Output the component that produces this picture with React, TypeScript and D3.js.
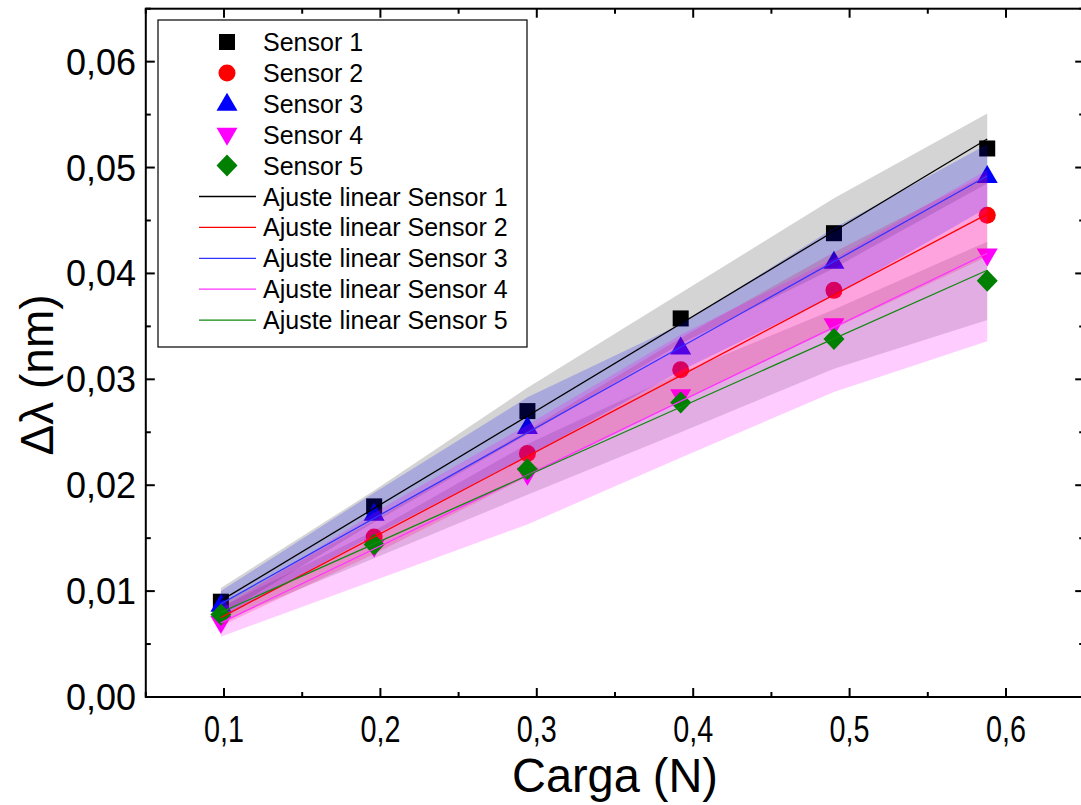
import React from "react";
import * as d3 from "d3";

const cargas = [0.098, 0.196, 0.294, 0.392, 0.49, 0.588];
const sensorNames = ["Sensor 1", "Sensor 2", "Sensor 3", "Sensor 4", "Sensor 5"];
const sensor1 = [0.009, 0.018, 0.027, 0.03575, 0.0438, 0.0518];
const sensor2 = [0.0077, 0.0151, 0.023, 0.0309, 0.0384, 0.0455];
const sensor3 = [0.0087, 0.0173, 0.0255, 0.033, 0.0411, 0.0492];
const sensor4 = [0.007, 0.0142, 0.021, 0.0284, 0.0351, 0.0417];
const sensor5 = [0.0078, 0.0144, 0.0215, 0.0278, 0.0338, 0.0393];
// half-widths of the shaded bands
const band1 = [0.0013, 0.0015, 0.0022, 0.0024, 0.0033, 0.0033];
const band2 = [0.001, 0.0016, 0.0022, 0.003, 0.0036, 0.0039];
const band3 = [0.0013, 0.002, 0.0028, 0.0022, 0.0032, 0.003];
const band4 = [0.0013, 0.0032, 0.0047, 0.0058, 0.0063, 0.0081];
const band5 = [0.0007, 0.0013, 0.0024, 0.0028, 0.0028, 0.0037];
// linear fit values at first and last carga
const fitStart = [0.0091, 0.0075, 0.0088, 0.007, 0.008];
const fitEnd = [0.0527, 0.0456, 0.0492, 0.0419, 0.0403];
const xTicks = [0.1, 0.2, 0.3, 0.4, 0.5, 0.6];
const yTicks = [0, 0.01, 0.02, 0.03, 0.04, 0.05, 0.06];

const colors = ["#000000", "#ff0000", "#0000ff", "#ff00ff", "#008000"];
const bandFills = [
  "rgba(0,0,0,0.17)",
  "rgba(255,0,60,0.2)",
  "rgba(0,0,255,0.2)",
  "rgba(255,0,255,0.2)",
  "rgba(40,30,40,0.17)",
];
const lineColors = ["#000000", "#ff0000", "#3333ff", "#ff33ff", "#118811"];

const FONT = "'Liberation Sans', Arial, sans-serif";

function Marker({ kind, x, y, color }: { kind: number; x: number; y: number; color: string }) {
  if (kind === 0) return <rect x={x - 8} y={y - 8} width={16} height={16} fill={color} />;
  if (kind === 1) return <circle cx={x} cy={y} r={8.5} fill={color} />;
  if (kind === 2)
    return <path d={`M${x},${y - 11} L${x + 10.5},${y + 7} L${x - 10.5},${y + 7} Z`} fill={color} />;
  if (kind === 3)
    return <path d={`M${x},${y + 11} L${x + 10.5},${y - 7} L${x - 10.5},${y - 7} Z`} fill={color} />;
  return <path d={`M${x},${y - 11} L${x + 10.5},${y} L${x},${y + 11} L${x - 10.5},${y} Z`} fill={color} />;
}

export default function App() {
  const W = 1081;
  const H = 805;
  const x = d3.scaleLinear().domain([0.05, 0.65]).range([145.8, 1084.2]);
  const y = d3.scaleLinear().domain([0, 0.065]).range([697, 8.7]);
  const series = [sensor1, sensor2, sensor3, sensor4, sensor5];
  const bands = [band1, band2, band3, band4, band5];

  const bandPath = (s: number[], b: number[]) =>
    d3
      .area<number>()
      .x((_, i) => x(cargas[i]))
      .y0((_, i) => y(s[i] - b[i]))
      .y1((_, i) => y(s[i] + b[i]))(s) || "";

  const line = d3
    .line<[number, number]>()
    .x((d) => x(d[0]))
    .y((d) => y(d[1]));

  const x0 = 145.8;
  const x1 = 1084.2;
  const yTop = y(0.065);
  const yBot = y(0);
  const xMinor = d3.range(0.05, 0.651, 0.05);
  const yMinor = d3.range(0, 0.0651, 0.005);

  const legendItems = [0, 1, 2, 3, 4];
  const legX = 158;
  const legY = 20;
  const legRowH = 30.9;

  const behind = [0, 1, 2, 3];

  return (
    <svg
      width={W}
      height={H}
      style={{ position: "absolute", left: 0, top: 0, background: "#fff" }}
      fontFamily={FONT}
    >
      <rect x={0} y={0} width={W} height={H} fill="#fff" />
      <path d={bandPath(series[4], bands[4])} fill={bandFills[4]} stroke="none" />
      {behind.map((si) =>
        series[si].map((v, i) => (
          <Marker key={`m${si}-${i}`} kind={si} x={x(cargas[i])} y={y(v)} color={colors[si]} />
        ))
      )}
      {behind.map((si) => (
        <path key={`b${si}`} d={bandPath(series[si], bands[si])} fill={bandFills[si]} stroke="none" />
      ))}
      {series[4].map((v, i) => (
        <Marker key={`m4-${i}`} kind={4} x={x(cargas[i])} y={y(v)} color={colors[4]} />
      ))}
      {series.map((_, si) => (
        <path
          key={`l${si}`}
          d={
            line([
              [cargas[0], fitStart[si]],
              [cargas[cargas.length - 1], fitEnd[si]],
            ]) || ""
          }
          stroke={lineColors[si]}
          strokeWidth={1.3}
          fill="none"
        />
      ))}

      <rect x={x0} y={yTop} width={x1 - x0} height={yBot - yTop} fill="none" stroke="#000" strokeWidth={2} />
      {xMinor.map((t, i) => {
        const major = i % 2 === 1;
        const len = major ? 9 : 5;
        const px = x(t);
        return (
          <g key={`xt${i}`}>
            <line x1={px} x2={px} y1={yBot} y2={yBot - len} stroke="#000" strokeWidth={2} />
            <line x1={px} x2={px} y1={yTop} y2={yTop + len} stroke="#000" strokeWidth={2} />
          </g>
        );
      })}
      {yMinor.map((t, i) => {
        const major = i % 2 === 0;
        const len = major ? 9 : 5;
        const py = y(t);
        return (
          <g key={`yt${i}`}>
            <line x1={x0} x2={x0 + len} y1={py} y2={py} stroke="#000" strokeWidth={2} />
            <line x1={x1} x2={x1 - len} y1={py} y2={py} stroke="#000" strokeWidth={2} />
          </g>
        );
      })}
      {xTicks.map((t) => (
        <text
          key={`xl${t}`}
          x={x(t)}
          y={742}
          fontSize={37}
          textAnchor="middle"
          fill="#000"
          textLength={40}
          lengthAdjust="spacingAndGlyphs"
        >
          {d3.format(".1f")(t).replace(".", ",")}
        </text>
      ))}
      {yTicks.map((t) => (
        <text key={`yl${t}`} x={136} y={y(t) + 13} fontSize={36} textAnchor="end" fill="#000">
          {d3.format(".2f")(t).replace(".", ",")}
        </text>
      ))}
      <text
        x={x(0.35)}
        y={792}
        fontSize={49}
        textAnchor="middle"
        fill="#000"
        textLength={206}
        lengthAdjust="spacingAndGlyphs"
      >
        Carga (N)
      </text>
      <text transform={`translate(53,375) rotate(-90)`} fontSize={46} textAnchor="middle" fill="#000">
        Δλ (nm)
      </text>

      <rect x={legX} y={legY} width={369} height={327} fill="#fff" stroke="#000" strokeWidth={1.2} />
      {legendItems.map((si) => {
        const cy = 42 + si * legRowH;
        return (
          <g key={`lg${si}`}>
            <Marker kind={si} x={227} y={cy} color={colors[si]} />
            <text x={263} y={cy + 9} fontSize={25} fill="#000">
              {sensorNames[si]}
            </text>
          </g>
        );
      })}
      {legendItems.map((si) => {
        const cy = 42 + (si + 5) * legRowH;
        return (
          <g key={`lf${si}`}>
            <line x1={199} x2={256} y1={cy} y2={cy} stroke={lineColors[si]} strokeWidth={1.3} />
            <text x={263} y={cy + 9} fontSize={25} fill="#000">
              {`Ajuste linear ${sensorNames[si]}`}
            </text>
          </g>
        );
      })}
    </svg>
  );
}
